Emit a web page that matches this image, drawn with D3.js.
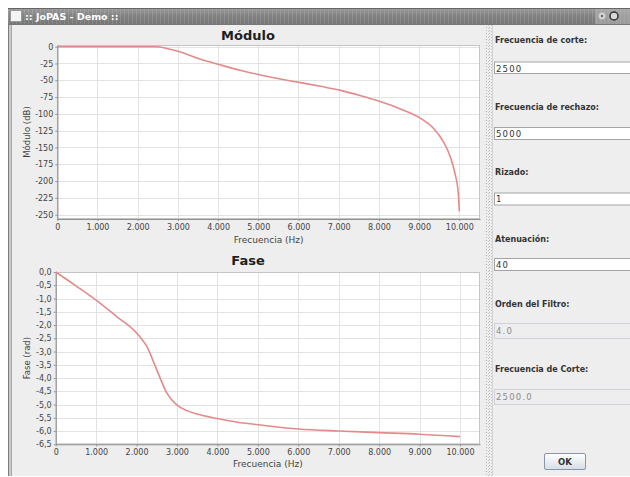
<!DOCTYPE html>
<html>
<head>
<meta charset="utf-8">
<script src="https://cdn.jsdelivr.net/npm/d3@7"></script>
<style>
  html, body { margin: 0; padding: 0; background: #ffffff; }
  svg { display: block; }
</style>
</head>
<body>
<svg id="chart" width="630" height="477"></svg>
<script>
// ---------------- DATA ----------------
const freqMod = [0, 500, 1000, 1500, 2000, 2470, 2750, 3050, 3550, 4050, 4550, 5050, 5550, 6050, 6550, 7050, 7550, 8050, 8550, 9050, 9350, 9600, 9770, 9890, 9975, 10000];
const modDb   = [0, 0, 0, 0, 0, 0, -3, -7.5, -18.5, -27, -35, -42, -48, -53.5, -59, -65, -73, -82, -93, -107, -121, -141, -163, -188, -218, -245];

const freqPhase = [0, 500, 1000, 1500, 2000, 2250, 2500, 2750, 3000, 3250, 3500, 4000, 4500, 5000, 6000, 7000, 8000, 9000, 10000];
const phaseRad  = [0, -0.52, -1.06, -1.67, -2.3, -2.8, -3.69, -4.57, -5.02, -5.23, -5.36, -5.53, -5.67, -5.76, -5.92, -6.0, -6.06, -6.12, -6.21];

const freqTicks  = [0, 1000, 2000, 3000, 4000, 5000, 6000, 7000, 8000, 9000, 10000];
const modTicks   = [0, -25, -50, -75, -100, -125, -150, -175, -200, -225, -250];
const phaseTicks = [0, -0.5, -1, -1.5, -2, -2.5, -3, -3.5, -4, -4.5, -5, -5.5, -6, -6.5];

const titles = ["Módulo", "Fase"];
const xLabel = "Frecuencia (Hz)";
const yLabels = ["Módulo (dB)", "Fase (rad)"];
const windowTitle = "::  JoPAS - Demo ::";

const panelLabels = ["Frecuencia de corte:", "Frecuencia de rechazo:", "Rizado:", "Atenuación:", "Orden del Filtro:", "Frecuencia de Corte:"];
const panelValues = ["2500", "5000", "1", "40", "4.0", "2500.0"];
const panelEnabled = [true, true, true, true, false, false];
const buttonLabel = "OK";

// ---------------- SETUP ----------------
const svg = d3.select("#chart");
const FONT = "'DejaVu Sans', sans-serif";
const locale = d3.formatLocale({decimal: ",", thousands: ".", grouping: [3], currency: ["", "€"], minus: "-"});
const fmtFreq = locale.format(",d");
const fmtMod = locale.format("d");
const fmtPhase = locale.format(".1f");

const defs = svg.append("defs");
const tg = defs.append("linearGradient").attr("id", "titleGrad").attr("x1", 0).attr("y1", 0).attr("x2", 0).attr("y2", 1);
tg.append("stop").attr("offset", "0%").attr("stop-color", "#9c9c9c");
tg.append("stop").attr("offset", "50%").attr("stop-color", "#828282");
tg.append("stop").attr("offset", "100%").attr("stop-color", "#767676");
const streak = defs.append("pattern").attr("id", "streak").attr("width", 4).attr("height", 16).attr("patternUnits", "userSpaceOnUse");
streak.append("rect").attr("x", 0).attr("y", 0).attr("width", 1).attr("height", 16).attr("fill", "#ffffff").attr("opacity", 0.12);
const dots = defs.append("pattern").attr("id", "dots").attr("width", 3).attr("height", 3).attr("patternUnits", "userSpaceOnUse");
dots.append("rect").attr("width", 3).attr("height", 3).attr("fill", "#eeeeee");
dots.append("rect").attr("x", 0).attr("y", 0).attr("width", 1).attr("height", 1).attr("fill", "#b8b8b8");
dots.append("rect").attr("x", 2).attr("y", 1).attr("width", 1).attr("height", 1).attr("fill", "#c8c8c8");
const bg = defs.append("linearGradient").attr("id", "btnGrad").attr("x1", 0).attr("y1", 0).attr("x2", 0).attr("y2", 1);
bg.append("stop").attr("offset", "0%").attr("stop-color", "#ffffff");
bg.append("stop").attr("offset", "100%").attr("stop-color", "#d6dde6");

// ---------------- WINDOW ----------------
svg.append("rect").attr("x", 8).attr("y", 24).attr("width", 622).attr("height", 452).attr("fill", "#eeeeee");
svg.append("rect").attr("x", 8).attr("y", 8).attr("width", 622).attr("height", 16).attr("fill", "url(#titleGrad)");
svg.append("rect").attr("x", 8).attr("y", 8).attr("width", 622).attr("height", 16).attr("fill", "url(#streak)");
svg.append("line").attr("x1", 8).attr("x2", 630).attr("y1", 8.5).attr("y2", 8.5).attr("stroke", "#666");
svg.append("rect").attr("x", 595).attr("y", 9).attr("width", 35).attr("height", 15).attr("fill", "#b4b4b4").attr("opacity", 0.6);
svg.append("circle").attr("cx", 602).attr("cy", 16).attr("r", 3.5).attr("fill", "#cfcfcf");
svg.append("circle").attr("cx", 602).attr("cy", 16).attr("r", 1).attr("fill", "#444");
svg.append("circle").attr("cx", 614).attr("cy", 16).attr("r", 4).attr("fill", "#d8d8d8").attr("stroke", "#333").attr("stroke-width", 1.5);
svg.append("rect").attr("x", 10.5).attr("y", 10.5).attr("width", 11).attr("height", 11).attr("fill", "#f4f4f4").attr("stroke", "#999");
svg.append("text").attr("x", 25).attr("y", 20).attr("fill", "#ffffff").attr("font-family", FONT).attr("font-weight", "bold").attr("font-size", "9.5px").text(windowTitle);
// left border
svg.append("rect").attr("x", 8).attr("y", 24).attr("width", 4).attr("height", 452).attr("fill", "#c9c9c9");
svg.append("line").attr("x1", 8.5).attr("x2", 8.5).attr("y1", 24).attr("y2", 476).attr("stroke", "#7d7d7d");
svg.append("line").attr("x1", 11.5).attr("x2", 11.5).attr("y1", 24).attr("y2", 476).attr("stroke", "#a9a9a9");
svg.append("line").attr("x1", 8).attr("x2", 630).attr("y1", 24.5).attr("y2", 24.5).attr("stroke", "#777");
// divider
svg.append("rect").attr("x", 486).attr("y", 25).attr("width", 6).attr("height", 451).attr("fill", "url(#dots)");
svg.append("line").attr("x1", 492.5).attr("x2", 492.5).attr("y1", 25).attr("y2", 476).attr("stroke", "#d4d4d4");

// ---------------- CHARTS ----------------
function drawChart(cfg) {
  const g = svg.append("g");
  const x = d3.scaleLinear().domain(cfg.xDomain).range(cfg.xRange);
  const y = d3.scaleLinear().domain(cfg.yDomain).range(cfg.yRange);
  const [x0, x1] = cfg.xRange; const [y1, y0] = cfg.yRange;

  g.append("rect").attr("x", x0).attr("y", y0).attr("width", x1 - x0).attr("height", y1 - y0).attr("fill", "#ffffff");
  // grid
  g.append("g").selectAll("line").data(cfg.xTicks).join("line")
    .attr("x1", d => Math.round(x(d)) + 0.5).attr("x2", d => Math.round(x(d)) + 0.5)
    .attr("y1", y0).attr("y2", y1).attr("stroke", "#e3e3e3").attr("stroke-width", 1);
  g.append("g").selectAll("line").data(cfg.yTicks).join("line")
    .attr("y1", d => Math.round(y(d)) + 0.5).attr("y2", d => Math.round(y(d)) + 0.5)
    .attr("x1", x0).attr("x2", x1).attr("stroke", "#e3e3e3").attr("stroke-width", 1);
  g.append("rect").attr("x", x0 + 0.5).attr("y", y0 + 0.5).attr("width", x1 - x0 - 1).attr("height", y1 - y0 - 1)
    .attr("fill", "none").attr("stroke", "#c4c4c4");

  // axes
  const xAxis = d3.axisBottom(x).tickValues(cfg.xTicks).tickFormat(cfg.xFmt).tickSizeInner(2).tickSizeOuter(0).tickPadding(3);
  const gx = g.append("g").attr("transform", `translate(0,${y1})`).call(xAxis);
  const yAxis = d3.axisLeft(y).tickValues(cfg.yTicks).tickFormat(cfg.yFmt).tickSizeInner(2).tickSizeOuter(0).tickPadding(2);
  const gy = g.append("g").attr("transform", `translate(${x0},0)`).call(yAxis);
  [gx, gy].forEach(a => {
    a.select(".domain").attr("stroke", "#8f8f8f");
    a.selectAll(".tick line").attr("stroke", "#8f8f8f");
    a.selectAll(".tick text").attr("fill", "#444").attr("font-family", FONT).attr("font-size", "8px");
  });

  // line
  const line = d3.line().x((d, i) => x(cfg.xs[i])).y(d => y(d)).curve(d3.curveMonotoneX);
  g.append("path").datum(cfg.ys).attr("d", line).attr("fill", "none")
    .attr("stroke", "#e38a8a").attr("stroke-width", 1.6).attr("stroke-linejoin", "round");

  // titles
  g.append("text").attr("x", cfg.titleX).attr("y", cfg.titleY).attr("text-anchor", "middle")
    .attr("font-family", FONT).attr("font-weight", "bold").attr("font-size", "13px").attr("fill", "#1e1e1e").text(cfg.title);
  g.append("text").attr("x", (x0 + x1) / 2).attr("y", cfg.xLabelY).attr("text-anchor", "middle")
    .attr("font-family", FONT).attr("font-size", "9px").attr("fill", "#444").text(xLabel);
  g.append("text").attr("transform", `translate(29.5,${(y0 + y1) / 2}) rotate(-90)`).attr("text-anchor", "middle")
    .attr("font-family", FONT).attr("font-size", "8.5px").attr("fill", "#444").text(cfg.yLabel);
}

drawChart({
  xs: freqMod, ys: modDb,
  xDomain: [0, 10515], xRange: [57.3, 480],
  yDomain: [-256.4, 2.5], yRange: [219, 45],
  xTicks: freqTicks, yTicks: modTicks, xFmt: fmtFreq, yFmt: fmtMod,
  title: titles[0], titleX: 248, titleY: 40, xLabelY: 243, yLabel: yLabels[0]
});
drawChart({
  xs: freqPhase, ys: phaseRad,
  xDomain: [0, 10495], xRange: [55.7, 480],
  yDomain: [-6.5, 0], yRange: [444.3, 272],
  xTicks: freqTicks, yTicks: phaseTicks, xFmt: fmtFreq, yFmt: fmtPhase,
  title: titles[1], titleX: 248, titleY: 265, xLabelY: 467, yLabel: yLabels[1]
});

// ---------------- RIGHT PANEL ----------------
const labelY = [42.5, 109.5, 175, 241.5, 306.5, 371.5];
const fieldTop = [61.5, 127, 192.5, 258, 323, 389];
const fieldH = [11.5, 12, 12, 12, 15, 15];
const valueY = [71.5, 136.7, 201.7, 268.3, 334.3, 400];
const panel = svg.append("g");
panelLabels.forEach((lab, i) => {
  panel.append("text").attr("x", 495).attr("y", labelY[i]).attr("font-family", FONT).attr("font-weight", "bold")
    .attr("font-size", "8px").attr("fill", "#333").text(lab);
  panel.append("rect").attr("x", 494.5).attr("y", fieldTop[i] + 0.5).attr("width", 150).attr("height", fieldH[i])
    .attr("fill", panelEnabled[i] ? "#ffffff" : "#eeeeee").attr("stroke", panelEnabled[i] ? "#a4a4a4" : "#cdd2da");
  panel.append("text").attr("x", 496).attr("y", valueY[i]).attr("font-family", FONT).attr("font-size", "8.5px")
    .attr("letter-spacing", "1.2px").attr("fill", panelEnabled[i] ? "#333" : "#8a8a8a").text(panelValues[i]);
});
panel.append("rect").attr("x", 544.5).attr("y", 453.5).attr("width", 41).attr("height", 16).attr("rx", 1.5)
  .attr("fill", "url(#btnGrad)").attr("stroke", "#8797a8");
panel.append("text").attr("x", 565).attr("y", 465).attr("text-anchor", "middle").attr("font-family", FONT)
  .attr("font-weight", "bold").attr("font-size", "8.5px").attr("fill", "#333").text(buttonLabel);
</script>
</body>
</html>
